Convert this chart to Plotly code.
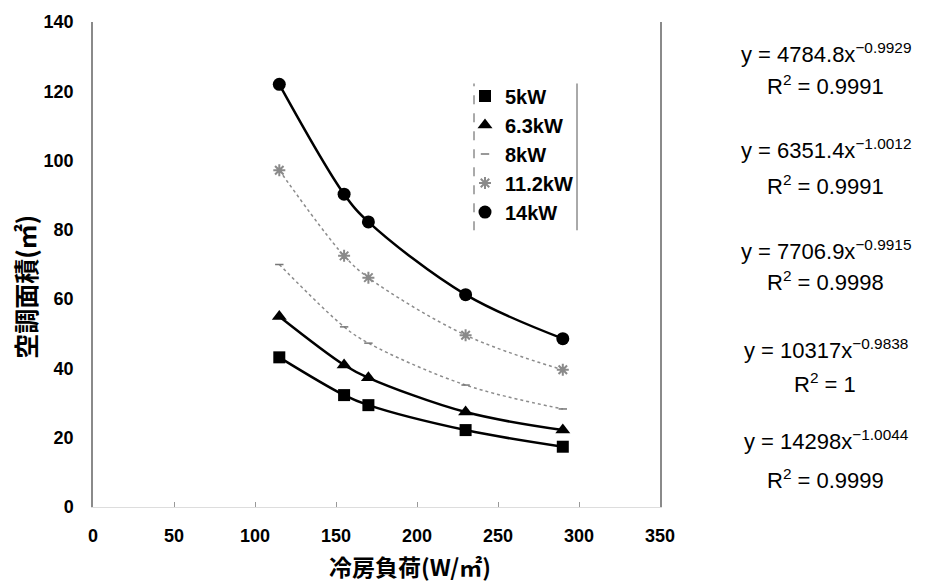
import plotly.graph_objects as go

# ---- data ----
load_x = [115, 155, 170, 230, 290]          # 冷房負荷 (W/㎡)
series_names = ["5kW", "6.3kW", "8kW", "11.2kW", "14kW"]
area_5kW = [43.2, 32.3, 29.4, 22.2, 17.4]
area_6_3kW = [55.0, 41.0, 37.3, 27.4, 22.2]
area_8kW = [70.0, 52.0, 47.3, 35.2, 28.3]
area_11_2kW = [97.2, 72.5, 66.2, 49.6, 39.6]
area_14kW = [122.0, 90.3, 82.3, 61.3, 48.6]

fit_coef = ["4784.8", "6351.4", "7706.9", "10317", "14298"]
fit_exp = ["−0.9929", "−1.0012", "−0.9915", "−0.9838", "−1.0044"]
fit_r2 = ["0.9991", "0.9991", "0.9998", "1", "0.9999"]

x_ticks = [0, 50, 100, 150, 200, 250, 300, 350]
y_ticks = [0, 20, 40, 60, 80, 100, 120, 140]

# ---- layout geometry (pixels) ----
W, H = 930, 582
L, R, T, B = 93, 660, 18, 507


def px(xp):
    return (xp - L) / (R - L)


def py(yp):
    return (B - yp) / (B - T)


series = [area_5kW, area_6_3kW, area_8kW, area_11_2kW, area_14kW]
styles = [
    dict(symbol="square", size=12, color="black", line=dict(width=0)),
    dict(symbol="triangle-up", size=13, color="black", line=dict(width=0)),
    dict(symbol="line-ew-open", size=6, color="#777777", line=dict(width=1.5, color="#777777")),
    dict(symbol="asterisk-open", size=10, color="#8a8a8a", line=dict(width=2, color="#8a8a8a")),
    dict(symbol="circle", size=13, color="black", line=dict(width=0)),
]
trend_styles = [
    dict(color="black", width=2.5),
    dict(color="black", width=2.5),
    dict(color="#8c8c8c", width=1.5, dash="dot"),
    dict(color="#8c8c8c", width=1.5, dash="dot"),
    dict(color="black", width=2.5),
]

fig = go.Figure()

# trend lines (drawn first, underneath markers)
for name, ys, ls in zip(series_names, series, trend_styles):
    fig.add_trace(go.Scatter(
        x=load_x, y=ys, mode="lines", line=dict(shape="spline", smoothing=1.0, **ls),
        showlegend=False, hoverinfo="skip", legendgroup=name,
    ))

for name, ys, ms in zip(series_names, series, styles):
    fig.add_trace(go.Scatter(
        x=load_x, y=ys, mode="markers", name=name, marker=ms, legendgroup=name,
    ))

tick_font = dict(family="Liberation Sans, Arial, sans-serif", size=18, color="black", weight="bold")

fig.update_layout(
    width=W, height=H,
    margin=dict(l=L, r=W - R, t=T, b=H - B),
    paper_bgcolor="white", plot_bgcolor="white",
    showlegend=True,
    legend=dict(
        x=px(465), y=py(73), xanchor="left", yanchor="top",
        font=dict(family="Liberation Sans, Arial, sans-serif", size=20, color="black", weight="bold"),
        bgcolor="rgba(255,255,255,0)", borderwidth=0,
        tracegroupgap=0, itemwidth=30,
    ),
    xaxis=dict(
        range=[0, 350], tickvals=x_ticks, ticktext=[str(v) for v in x_ticks],
        showgrid=False, zeroline=False, showline=True, linecolor="#dddddd", linewidth=1,
        ticks="inside", ticklen=5, tickcolor="#999999",
        tickfont=tick_font, ticklabelstandoff=12,
    ),
    yaxis=dict(
        range=[0, 140], tickvals=y_ticks, ticktext=[str(v) for v in y_ticks],
        showgrid=False, zeroline=False, showline=True, linecolor="#8a8a8a", linewidth=1.5,
        mirror=True, ticks="", tickfont=tick_font, ticklabelstandoff=14,
    ),
)

# legend side borders
fig.add_shape(type="line", xref="paper", yref="paper", x0=px(474), x1=px(474), y0=py(228), y1=py(80),
              line=dict(color="#555555", width=1, dash="dash"))
fig.add_shape(type="line", xref="paper", yref="paper", x0=px(577), x1=px(577), y0=py(228), y1=py(80),
              line=dict(color="#555555", width=1))

# axis titles
cjk = "Noto Sans CJK JP, sans-serif"
fig.add_annotation(text="冷房負荷(W/㎡)", xref="paper", yref="paper", x=px(410), y=py(566),
                   showarrow=False, font=dict(family=cjk, size=23, color="black", weight="bold"),
                   xanchor="center", yanchor="middle")
fig.add_annotation(text="空調面積(㎡)", xref="paper", yref="paper", x=px(25), y=py(285),
                   showarrow=False, textangle=-90,
                   font=dict(family=cjk, size=25, color="black", weight="bold"),
                   xanchor="center", yanchor="middle")

# trendline equations
eq_y = [53, 150, 252, 352, 443]
r2_y = [85, 185, 282, 385, 482]
eq_font = dict(family="Liberation Sans, Arial, sans-serif", size=22, color="black")
for c, e, r, ey, ry in zip(fit_coef, fit_exp, fit_r2, eq_y, r2_y):
    fig.add_annotation(text=f"y = {c}x<sup>{e}</sup>", xref="paper", yref="paper",
                       x=px(826), y=py(ey - 4), showarrow=False, font=eq_font,
                       xanchor="center", yanchor="middle")
    fig.add_annotation(text=f"R<sup>2</sup> = {r}", xref="paper", yref="paper",
                       x=px(825), y=py(ry - 3), showarrow=False, font=eq_font,
                       xanchor="center", yanchor="middle")

fig.write_html("out.html", config={"displayModeBar": False},
               post_script="document.body.style.margin='0px';")
